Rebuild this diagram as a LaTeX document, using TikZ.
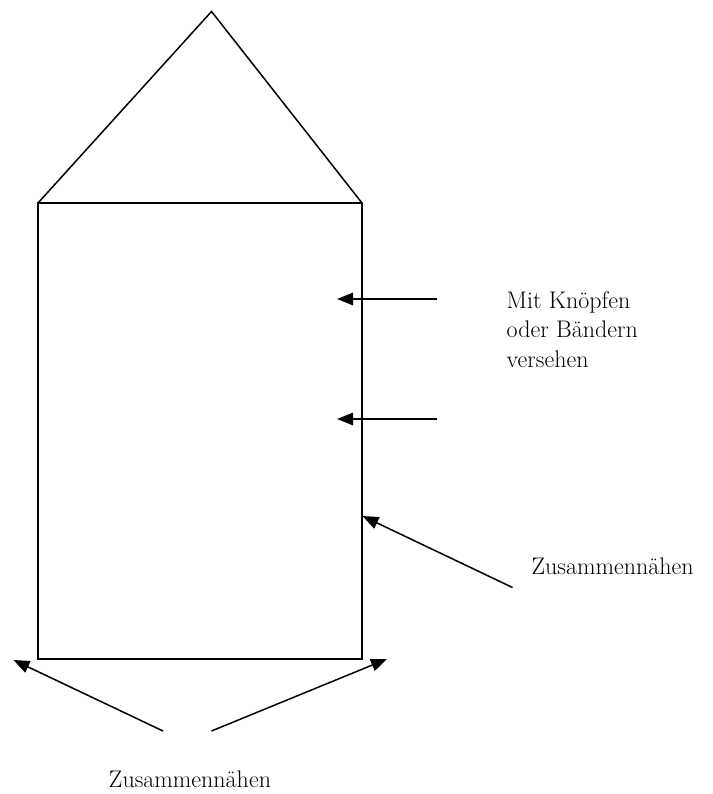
\documentclass[tikz,border=0pt]{standalone}
\usetikzlibrary{arrows.meta}
\begin{document}
\begin{tikzpicture}[x=1pt,y=-1pt,
  outline/.style={line width=1.5pt, line join=miter},
  pointer/.style={line width=1.5pt, -{Triangle[length=16pt,width=12.5pt]}},
  label/.style={inner sep=0pt, font=\fontsize{24}{29.5}\selectfont, align=left}]
\useasboundingbox (0,0) rectangle (712,794);
% shape
\coordinate (apex) at (211.5,11.5);
\coordinate (tl) at (38,203);
\coordinate (tr) at (362,203);
\coordinate (bl) at (38,659);
\coordinate (br) at (362,659);
\draw[outline] (tl) -- (apex) -- (tr);
\draw[outline] (tl) -- (tr) -- (br) -- (bl) -- cycle;
% right labels
\node[label, anchor=north west] (knoepfe) at (506.5,291) {Mit Knöpfen\\oder Bändern\\versehen};
\node[label, anchor=base west] (naht1) at (531.5,574) {Zusammennähen};
\node[label, anchor=base] (naht2) at (190,787) {Zusammennähen};
% arrow endpoints
\coordinate (a1s) at (437,299);
\coordinate (a1e) at (337,299);
\coordinate (a2s) at (437,419);
\coordinate (a2e) at (337,419);
\coordinate (a3s) at (512.5,587.5);
\coordinate (a3e) at (362.5,516);
\coordinate (a4s) at (163,731);
\coordinate (a4e) at (13.5,660);
\coordinate (a5s) at (211.5,731);
\coordinate (a5e) at (387,659);
\draw[pointer] (a1s) -- (a1e);
\draw[pointer] (a2s) -- (a2e);
\draw[pointer] (a3s) -- (a3e);
\draw[pointer] (a4s) -- (a4e);
\draw[pointer] (a5s) -- (a5e);
\end{tikzpicture}
\end{document}
